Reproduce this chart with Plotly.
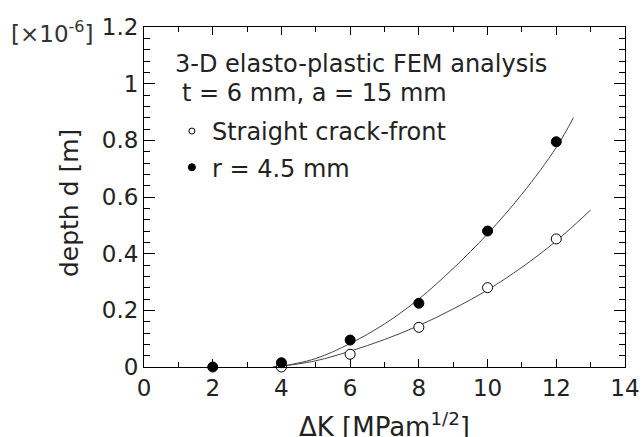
import plotly.graph_objects as go

# Data (depth d in units of 1e-6 m)
dk_open = [4, 6, 8, 10, 12]
d_open = [0.0, 0.045, 0.14, 0.28, 0.452]
dk_filled = [2, 4, 6, 8, 10, 12]
d_filled = [0.0, 0.015, 0.095, 0.225, 0.48, 0.795]

# Fitted curves
fit_upper_x = [3.75, 4, 5, 6, 7, 8, 9, 10, 11, 12, 12.5]
fit_upper_y = [0.0, 0.003, 0.03, 0.083, 0.152, 0.24, 0.348, 0.47, 0.61, 0.775, 0.88]
fit_lower_x = [3.75, 4, 5, 6, 7, 8, 9, 10, 11, 12, 13]
fit_lower_y = [0.0, 0.003, 0.022, 0.056, 0.097, 0.146, 0.205, 0.272, 0.352, 0.445, 0.554]

legend_labels = ["Straight crack-front", "r = 4.5 mm"]
xtick_vals = [0, 2, 4, 6, 8, 10, 12, 14]
ytick_vals = [0, 0.2, 0.4, 0.6, 0.8, 1.0, 1.2]
ytick_text = ["0", "0.2", "0.4", "0.6", "0.8", "1", "1.2"]

FONT = "DejaVu Sans"
LINE = "#444444"
TXT = "#222222"

fig = go.Figure()
fig.add_trace(go.Scatter(x=fit_upper_x, y=fit_upper_y, mode="lines", line=dict(color=LINE, width=1, shape="spline"), showlegend=False, hoverinfo="skip"))
fig.add_trace(go.Scatter(x=fit_lower_x, y=fit_lower_y, mode="lines", line=dict(color=LINE, width=1, shape="spline"), showlegend=False, hoverinfo="skip"))
fig.add_trace(go.Scatter(x=dk_open, y=d_open, mode="markers", marker=dict(size=10, color="white", line=dict(color="black", width=1)), showlegend=False, cliponaxis=False))
fig.add_trace(go.Scatter(x=dk_filled, y=d_filled, mode="markers", marker=dict(size=10, color="black", line=dict(color="black", width=1)), showlegend=False, cliponaxis=False))

# legend-only entries with small symbols
fig.add_trace(go.Scatter(x=[None], y=[None], mode="markers", name=legend_labels[0], legendgroup="a",
                         marker=dict(size=6, color="white", line=dict(color="black", width=1))))
fig.add_trace(go.Scatter(x=[None], y=[None], mode="markers", name=legend_labels[1], legendgroup="b",
                         marker=dict(size=7, color="black", line=dict(color="black", width=1))))

axis_common = dict(showline=True, linecolor="black", linewidth=1, mirror="ticks", ticks="inside",
                   tickcolor="black", showgrid=False, zeroline=False, automargin=False,
                   tickfont=dict(family=FONT, size=23, color=TXT))

fig.update_xaxes(range=[0, 14], tickvals=xtick_vals, ticklen=8,
                 minor=dict(dtick=1, ticks="inside", ticklen=5, tickcolor="black"),
                 **axis_common)
fig.update_yaxes(range=[0, 1.2], tickvals=ytick_vals, ticktext=ytick_text, ticklen=11,
                 minor=dict(dtick=0.04, ticks="inside", ticklen=6, tickcolor="black"),
                 **axis_common)

fig.add_annotation(xref="paper", yref="paper", x=0.499, y=-0.171, xanchor="center", yanchor="middle",
                   text="ΔK [MPam<sup>1/2</sup>]", showarrow=False, font=dict(family=FONT, size=26, color=TXT))
fig.add_annotation(xref="paper", yref="paper", x=-0.156, y=0.482, xanchor="center", yanchor="middle",
                   textangle=-90, text="depth d [m]", showarrow=False, font=dict(family=FONT, size=25, color=TXT))
fig.add_annotation(xref="paper", yref="paper", x=-0.1, y=0.985, xanchor="right", yanchor="middle",
                   text="[×10<sup>-6</sup>]", showarrow=False, font=dict(family=FONT, size=23, color="#333333"))
fig.add_annotation(xref="paper", yref="paper", x=0.06, y=0.891, xanchor="left", yanchor="middle",
                   text="3-D elasto-plastic FEM analysis", showarrow=False, font=dict(family=FONT, size=24, color=TXT))
fig.add_annotation(xref="paper", yref="paper", x=0.074, y=0.806, xanchor="left", yanchor="middle",
                   text="t = 6 mm, a = 15 mm", showarrow=False, font=dict(family=FONT, size=24, color=TXT))

fig.update_layout(
    width=642, height=437,
    margin=dict(l=144, r=17, t=27, b=70),
    plot_bgcolor="white", paper_bgcolor="white",
    legend=dict(x=0.058, y=0.759, xanchor="left", yanchor="top", bgcolor="rgba(0,0,0,0)",
                font=dict(family=FONT, size=24, color=TXT), tracegroupgap=2),
)

fig.write_html("out.html", config={"displayModeBar": False},
               post_script="document.body.style.margin='0';document.body.style.overflow='hidden';")
